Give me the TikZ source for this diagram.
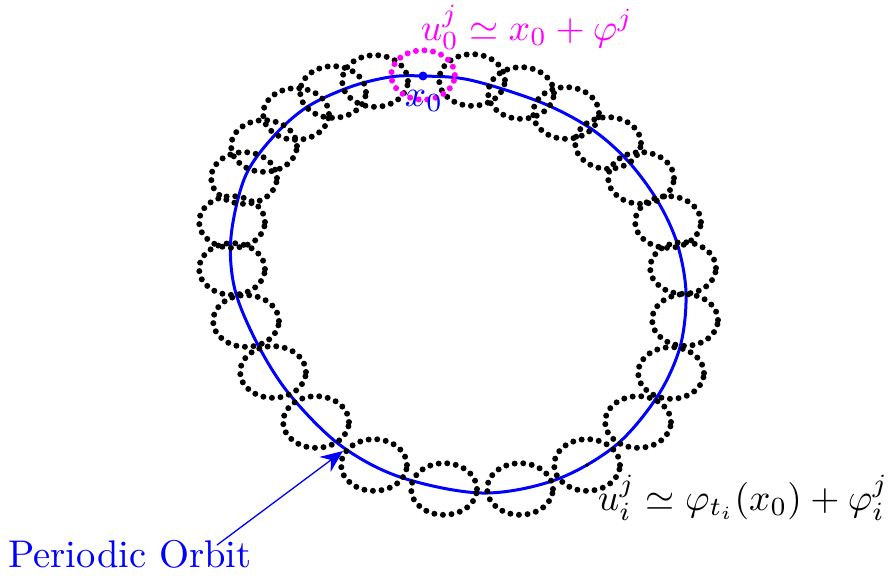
\documentclass[tikz,border=0pt]{standalone}
\usetikzlibrary{arrows.meta}
\definecolor{orbitblue}{RGB}{0,0,255}
\definecolor{mag}{RGB}{255,0,255}
\begin{document}
\begin{tikzpicture}[x=0.267pt,y=-0.267pt,
  looppath/.style={draw=black, line width=1.6pt, line cap=round, dash pattern=on 0pt off 2.3pt},
  maglooppath/.style={draw=mag, line width=1.6pt, line cap=round, dash pattern=on 0pt off 2.3pt},
  orbitpath/.style={draw=orbitblue, line width=0.8pt},
  pointer/.style={draw=orbitblue, line width=0.35pt, -{Stealth[length=6pt,width=5pt,inset=2pt]}},
  lbl/.style={inner sep=0pt, outer sep=0pt, font=\fontsize{10.3}{12}\selectfont}]
\useasboundingbox (0,0) rectangle (889,575);
% periodic orbit
\draw[orbitpath] plot[smooth cycle, tension=0.55] coordinates {
 (422,76) (470,80) (540,102) (590,128) (627,160) (657,200) (677,243) (686,293)
 (680,347) (657,397) (615,446) (555,480) (482,493) (400,477) (340,445) (290,395)
 (258,345) (235,290) (231,237) (245,177) (273,137) (307,107) (350,87) (390,77)};
% perturbed loops
\foreach \cx/\cy in {472/80, 521/93, 566/113, 608/143, 641/178, 668/222, 683/268,
  685/320, 671/373, 638/422, 587/465, 520/489, 444/489, 374/465, 316/422, 273/372,
  246/321, 232/269, 232/222, 244/178, 264/146, 296/114, 333/92, 375/81}
  \draw[looppath] (\cx,\cy) ellipse [x radius=8.8pt, y radius=6.9pt];
\draw[maglooppath] (423,75) ellipse [x radius=8.5pt, y radius=6.6pt];
% points
\fill[orbitblue] (423,76) circle [radius=1.2pt];
\fill[black] (587,465) circle [radius=0.5pt];
% labels
\node[lbl, text=orbitblue] (xz) at (424,101) {$x_0$};
\node[lbl, text=mag, anchor=base] (ueq) at (527,40) {$u_0^j\simeq x_0+\varphi^j$};
\node[lbl, anchor=base] (ieq) at (743,510) {$u_i^j\simeq \varphi_{t_i}(x_0)+\varphi_i^j$};
\node[lbl, text=orbitblue, anchor=base] (po) at (130,567) {Periodic Orbit};
\coordinate (ps) at (217,545);
\coordinate (tip) at (343,451);
\draw[pointer] (ps) -- (tip);
\end{tikzpicture}
\end{document}
